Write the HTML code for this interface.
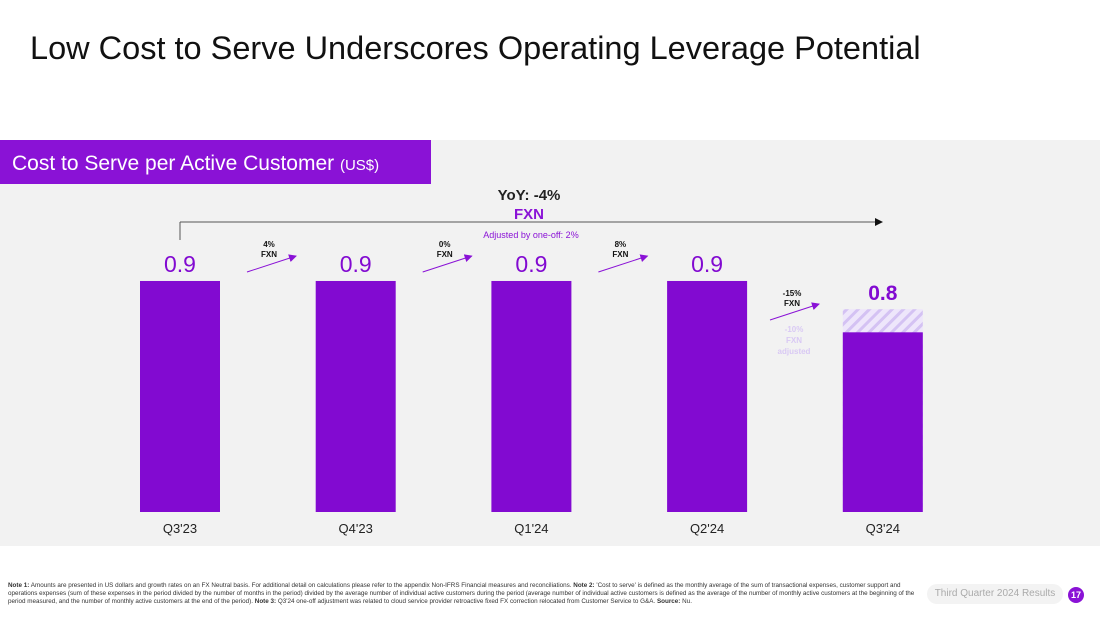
<!DOCTYPE html>
<html><head><meta charset="utf-8"><style>
body{margin:0;width:1100px;height:619px;background:#fff;font-family:"Liberation Sans",sans-serif;overflow:hidden;position:relative}
</style></head><body>
<div style="position:absolute;left:30px;top:30px;font-size:32.5px;color:#111">Low Cost to Serve Underscores Operating Leverage Potential</div>
<svg width="1100" height="619" style="position:absolute;left:0;top:0">
<defs><pattern id="hatch" patternUnits="userSpaceOnUse" width="8" height="8" patternTransform="rotate(45)"><rect width="8" height="8" fill="#eee6fb"/><rect width="3" height="8" fill="#d4c2f3"/></pattern>
<marker id="ah" markerWidth="8" markerHeight="8" refX="7" refY="4" orient="auto"><path d="M0,0L8,4L0,8z" fill="#8a12d6"/></marker>
<marker id="ak" markerWidth="8" markerHeight="8" refX="7" refY="4" orient="auto"><path d="M0,0L8,4L0,8z" fill="#111"/></marker></defs>
<rect x="0" y="140" width="1100" height="406" fill="#f2f2f2"/>
<rect x="0" y="140" width="431" height="44" fill="#8a12d6"/>
<text x="12" y="170" fill="#fff" font-size="21">Cost to Serve per Active Customer <tspan font-size="15">(US$)</tspan></text>
<g id="bars"></g>
<line x1="180" y1="240" x2="180" y2="222" stroke="#555" stroke-width="1"/>
<line x1="180" y1="222" x2="882" y2="222" stroke="#555" stroke-width="1" marker-end="url(#ak)"/>
<text x="529" y="200" text-anchor="middle" font-size="15" font-weight="bold" fill="#222">YoY: -4%</text>
<text x="529" y="219" text-anchor="middle" font-size="15" font-weight="bold" fill="#8a12d6">FXN</text>
<text x="531" y="238" text-anchor="middle" font-size="9" fill="#8a12d6">Adjusted by one-off: 2%</text>
<text text-anchor="middle" font-size="8" font-weight="bold" fill="#d9c9f4"><tspan x="794" y="332">-10%</tspan><tspan x="794" y="343">FXN</tspan><tspan x="794" y="354">adjusted</tspan></text>
</svg>
<div style="position:absolute;left:8px;top:582px;width:910px;font-size:6.3px;line-height:8px;color:#333"><b>Note 1:</b> Amounts are presented in US dollars and growth rates on an FX Neutral basis. For additional detail on calculations please refer to the appendix Non-IFRS Financial measures and reconciliations. <b>Note 2:</b> 'Cost to serve' is defined as the monthly average of the sum of transactional expenses, customer support and operations expenses (sum of these expenses in the period divided by the number of months in the period) divided by the average number of individual active customers during the period (average number of individual active customers is defined as the average of the number of monthly active customers at the beginning of the period measured, and the number of monthly active customers at the end of the period). <b>Note 3:</b> Q3'24 one-off adjustment was related to cloud service provider retroactive fixed FX correction relocated from Customer Service to G&amp;A. <b>Source:</b> Nu.</div>
<div style="position:absolute;left:927px;top:584px;width:136px;height:20px;border-radius:10px;background:#f3f3f3;color:#aaa;font-size:10px;line-height:20px;text-align:center">Third Quarter 2024 Results</div>
<div style="position:absolute;left:1068px;top:587px;width:16px;height:16px;border-radius:8px;background:#8a12d6;color:#fff;font-size:9px;font-weight:bold;line-height:16px;text-align:center">17</div>
<script>
const categories=["Q3'23","Q4'23","Q1'24","Q2'24","Q3'24"];
const values=[0.9,0.9,0.9,0.9,0.70];
const adjustedValues=[null,null,null,null,0.79];
const valueLabels=["0.9","0.9","0.9","0.9","0.8"];
const growthLabels=["4%","0%","8%","-15%"];
const ns="http://www.w3.org/2000/svg";
const g=document.getElementById('bars');
const base=512, k=256.7, x0=140, step=175.7, bw=80;
const y=v=>base-v*k, xs=i=>x0+i*step;
function el(t,a){const e=document.createElementNS(ns,t);for(const q in a)e.setAttribute(q,a[q]);g.appendChild(e);return e;}
categories.forEach((c,i)=>{
 const x=xs(i);
 if(adjustedValues[i]!=null){const h=el('rect',{x:x,y:y(adjustedValues[i]),width:bw,height:base-y(adjustedValues[i]),fill:'url(#hatch)'});
  
  }
 const r=el('rect',{x:x,y:y(values[i]),width:bw,height:base-y(values[i]),fill:'#820ad1'});
 
 
 const top=adjustedValues[i]!=null?y(adjustedValues[i]):y(values[i]);
 const last=adjustedValues[i]!=null;
 const t=el('text',{x:x+bw/2,y:top-9,'text-anchor':'middle','font-size':last?21:23,'font-weight':last?'bold':'normal',fill:'#820ad1'});t.textContent=valueLabels[i];
 
 
 const ct=el('text',{x:x+bw/2,y:533,'text-anchor':'middle','font-size':13,fill:'#222'});ct.textContent=c;
 
 
});
growthLabels.forEach((gl,i)=>{
 const last=i===3;
 const cx=last?792:xs(i)+bw+49;
 const yt=last?296:247;
 const t=el('text',{'text-anchor':'middle','font-size':8,'font-weight':'bold',fill:'#111'});
 t.innerHTML='<tspan x="'+cx+'" y="'+yt+'">'+gl+'</tspan><tspan x="'+cx+'" y="'+(yt+10)+'">FXN</tspan>';
 
 
 const ay=last?320:272;
 const a=el('line',{x1:cx-22,y1:ay,x2:cx+27,y2:ay-16,stroke:'#8a12d6','stroke-width':1,'marker-end':'url(#ah)'});
 
 
});
</script>
</body></html>
